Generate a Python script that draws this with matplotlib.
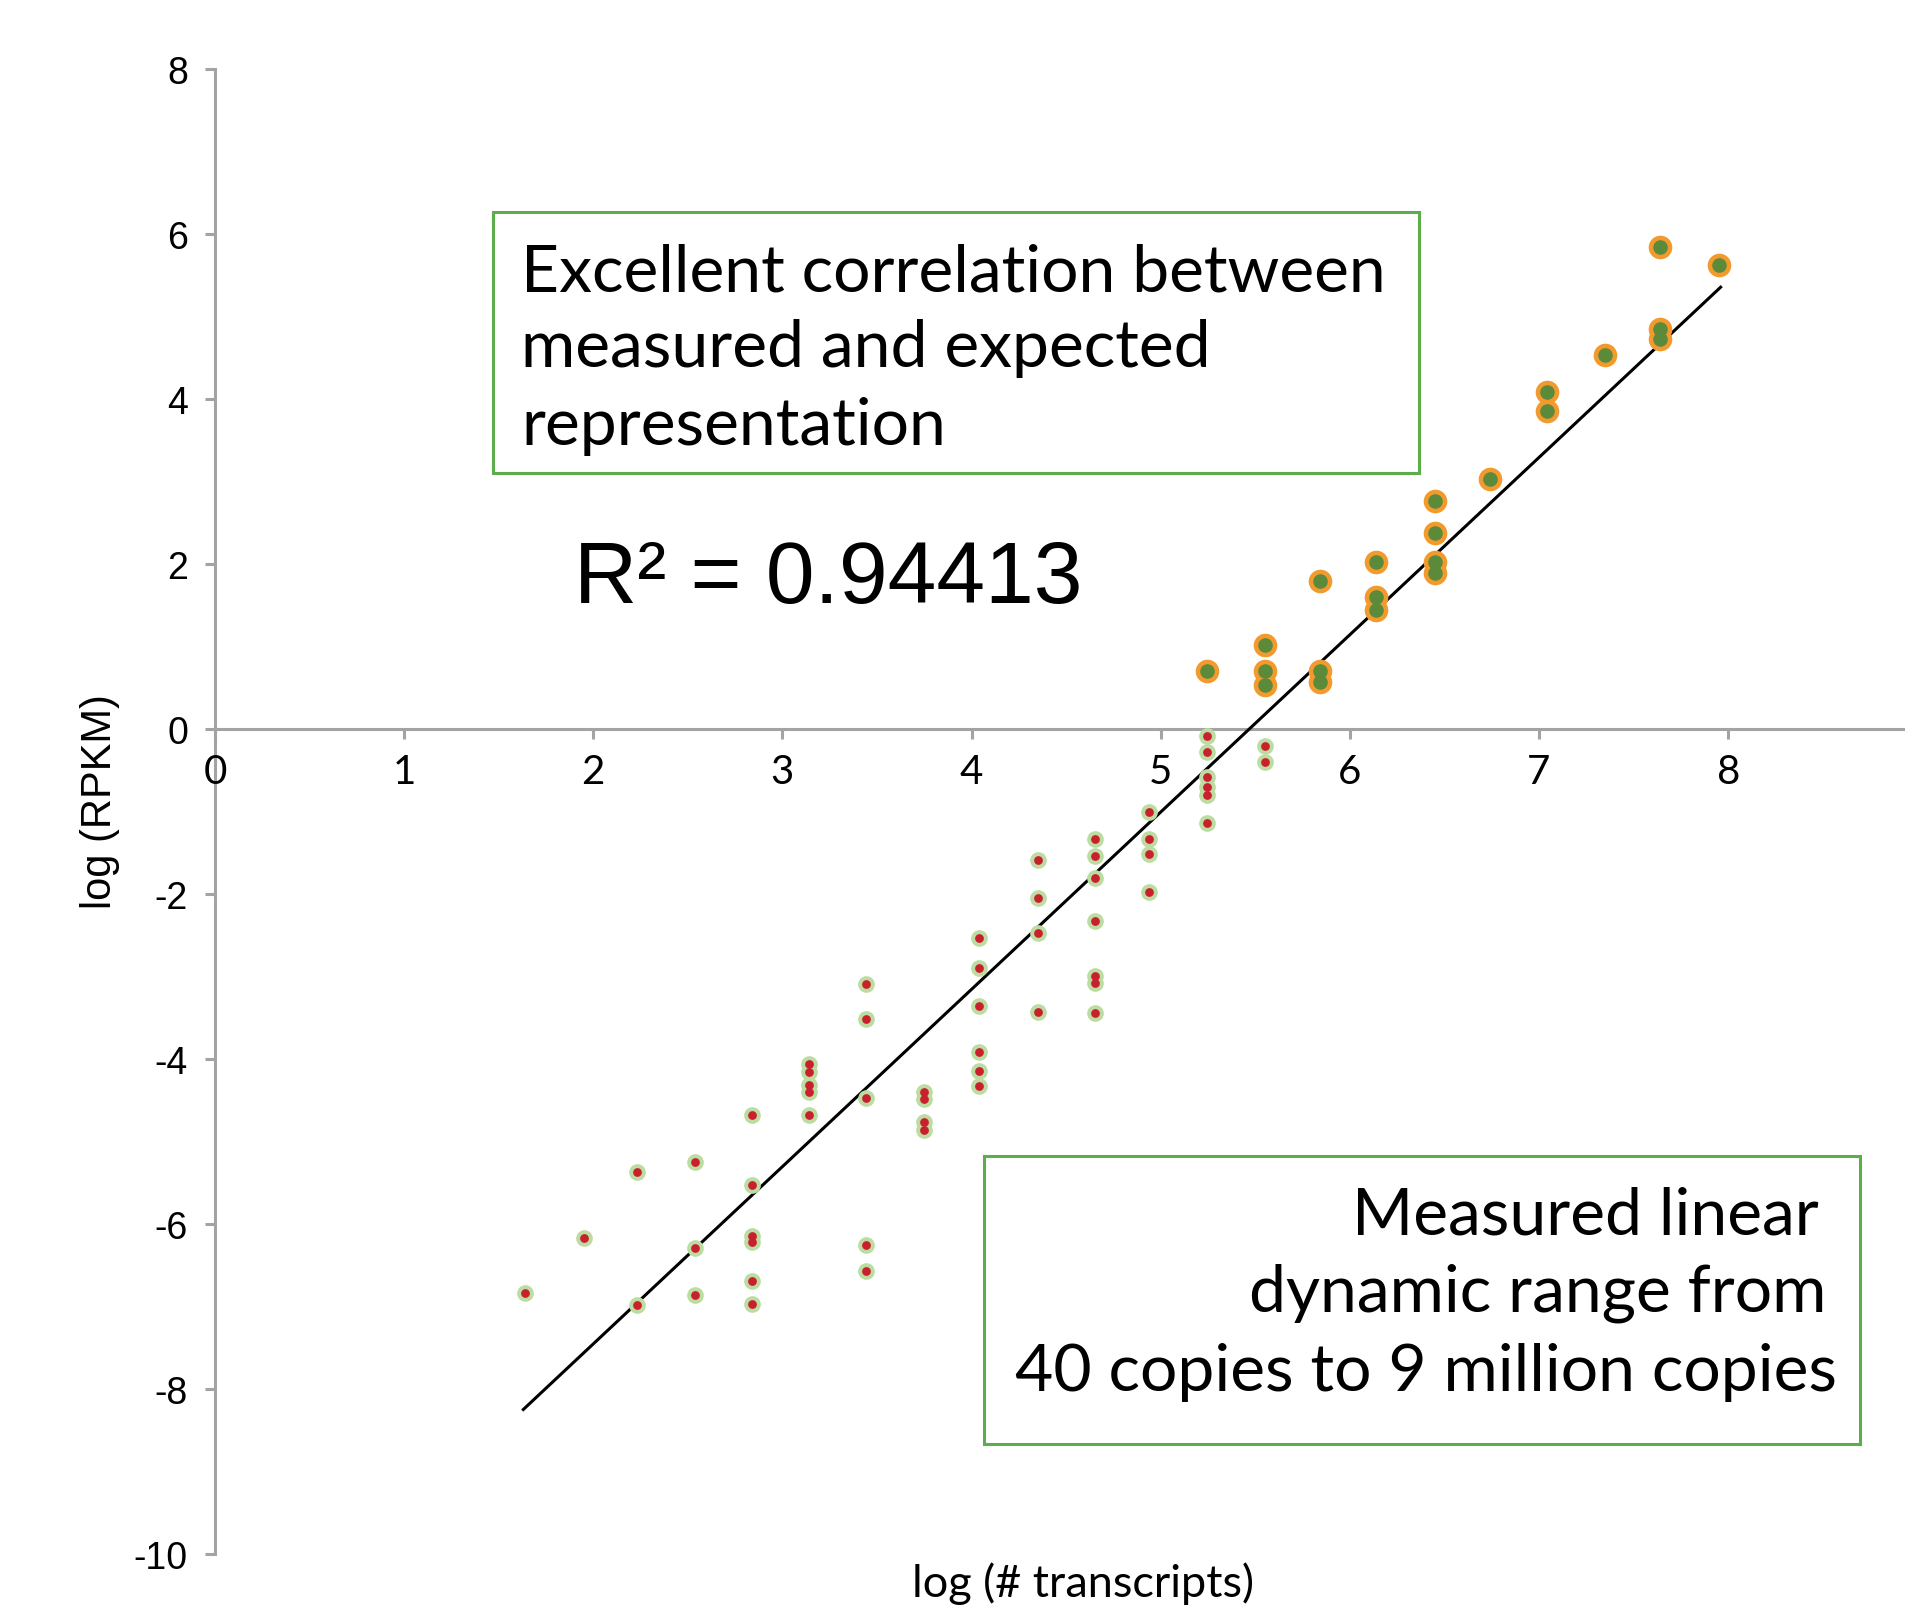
"""Scatter of log(RPKM) vs log(# transcripts) with trend line and callout boxes."""
import matplotlib
matplotlib.use("Agg")
import matplotlib.pyplot as plt
from matplotlib.patches import Rectangle

# upper group (above zero)
x_hi = [5.245, 5.55, 5.55, 5.55, 5.84, 5.84, 5.84, 6.14, 6.14, 6.14,
        6.45, 6.45, 6.45, 6.45, 6.74, 7.04, 7.04, 7.35, 7.64, 7.64, 7.64, 7.95]
y_hi = [0.70, 1.02, 0.71, 0.54, 1.80, 0.70, 0.57, 2.03, 1.60, 1.45,
        2.77, 2.38, 2.03, 1.89, 3.04, 4.09, 3.86, 4.54, 5.85, 4.85, 4.73, 5.63]

# lower group (below zero)
x_lo = [1.64, 1.95, 2.23, 2.23, 2.54, 2.54, 2.54,
        2.84, 2.84, 2.84, 2.84, 2.84, 2.84,
        3.14, 3.14, 3.14, 3.14, 3.14,
        3.44, 3.44, 3.44, 3.44, 3.44,
        3.75, 3.75, 3.75, 3.75,
        4.04, 4.04, 4.04, 4.04, 4.04, 4.04,
        4.35, 4.35, 4.35, 4.35,
        4.65, 4.65, 4.65, 4.65, 4.65, 4.65, 4.65,
        4.94, 4.94, 4.94, 4.94,
        5.245, 5.245, 5.245, 5.245, 5.245, 5.245,
        5.55, 5.55]
y_lo = [-6.84, -6.17, -5.37, -6.98, -5.25, -6.29, -6.86,
        -4.68, -5.53, -6.15, -6.22, -6.69, -6.97,
        -4.06, -4.16, -4.31, -4.40, -4.68,
        -3.09, -3.52, -4.47, -6.25, -6.57,
        -4.40, -4.49, -4.76, -4.86,
        -2.53, -2.90, -3.36, -3.92, -4.14, -4.33,
        -1.59, -2.05, -2.47, -3.43,
        -1.33, -1.54, -1.81, -2.33, -2.99, -3.08, -3.44,
        -1.00, -1.33, -1.51, -1.98,
        -0.08, -0.28, -0.58, -0.70, -0.80, -1.14,
        -0.21, -0.40]

# linear trend line end points
trend_x = [1.63, 7.96]
trend_y = [-8.25, 5.36]

x_ticks = [0, 1, 2, 3, 4, 5, 6, 7, 8]
y_ticks = [-10, -8, -6, -4, -2, 0, 2, 4, 6, 8]

r2_text = "R\u00b2 = 0.94413"
box1_lines = ["Excellent correlation between", "measured and expected",
              "representation"]
box2_lines = ["Measured linear", "dynamic range from",
              "40 copies to 9 million copies"]

AXIS_GRAY = "#A3A3A3"
BOX_GREEN = "#5EAD4C"

fig = plt.figure(figsize=(19.06, 16.15), dpi=100)
ax = fig.add_axes([0.1128, 0.03728, 0.8872, 0.91907])

ax.plot(trend_x, trend_y, color="black", linewidth=2.2, zorder=2)

ax.plot(x_lo, y_lo, "o", markersize=12, color="#BCDCA2", markeredgewidth=0,
        zorder=3)
ax.plot(x_lo, y_lo, "o", markersize=6.3, color="#C8202C", markeredgewidth=0,
        zorder=4)
ax.plot(x_hi, y_hi, "o", markersize=17, color="#F29A2E", markeredgewidth=0,
        zorder=3)
ax.plot(x_hi, y_hi, "o", markersize=10.5, color="#5B8A3B", markeredgewidth=0,
        zorder=4)

ax.set_xlim(0, 8.94)
ax.set_ylim(-10, 8)
ax.spines["top"].set_visible(False)
ax.spines["right"].set_visible(False)
ax.spines["bottom"].set_position(("data", 0))
for s in ("left", "bottom"):
    ax.spines[s].set_color(AXIS_GRAY)
    ax.spines[s].set_linewidth(2.2)
    ax.spines[s].set_zorder(1)

ax.set_xticks(x_ticks)
ax.set_yticks(y_ticks)
ax.set_xticklabels([str(v) for v in x_ticks], family="Lato", fontsize=29)
ax.set_yticklabels([str(v) for v in y_ticks], family="Liberation Sans",
                   fontsize=27)
ax.tick_params(axis="both", direction="out", length=7.5, width=2.2,
               color=AXIS_GRAY)
ax.tick_params(axis="x", pad=10)
ax.tick_params(axis="y", pad=12)

fig.text(0.5682, 0.0113, "log (# transcripts)", family="Lato", fontsize=32.5,
         ha="center", va="baseline")
fig.text(0.0525, 0.5034, "log (RPKM)", family="Liberation Sans", fontsize=30,
         rotation=90, ha="center", va="center")

# callout boxes
fig.add_artist(Rectangle((0.2589, 0.7065), 0.4855, 0.1618,
                         transform=fig.transFigure, fill=False,
                         edgecolor=BOX_GREEN, linewidth=2.2))
for line, yb in zip(box1_lines, [0.8198, 0.7728, 0.7245]):
    fig.text(0.2735, yb, line, family="Lato", fontsize=47.5,
             ha="left", va="baseline")

fig.add_artist(Rectangle((0.5165, 0.1053), 0.4593, 0.1785,
                         transform=fig.transFigure, fill=False,
                         edgecolor=BOX_GREEN, linewidth=2.2))
for line, xr, yb in zip(box2_lines, [0.9541, 0.9583, 0.9637],
                        [0.2353, 0.1878, 0.1389]):
    fig.text(xr, yb, line, family="Lato", fontsize=47.5,
             ha="right", va="baseline")

fig.text(0.3012, 0.6264, r2_text, family="Liberation Sans", fontsize=63,
         ha="left", va="baseline")

fig.savefig("out.png", dpi=100)
